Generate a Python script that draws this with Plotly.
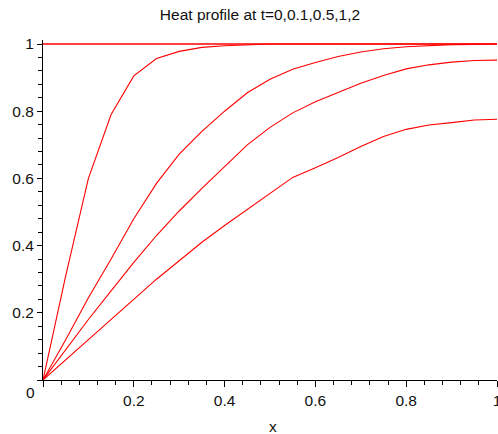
import plotly.graph_objects as go

# ---- data ----
x_grid = [0, 0.05, 0.1, 0.15, 0.2, 0.25, 0.3, 0.35, 0.4, 0.45, 0.5,
          0.55, 0.6, 0.65, 0.7, 0.75, 0.8, 0.85, 0.9, 0.95, 1.0]
u_t0 = [1.0] * 21
u_t01 = [0, 0.31, 0.60, 0.79, 0.905, 0.957, 0.978, 0.99, 0.995, 0.998, 1.0,
         1.0, 1.0, 1.0, 1.0, 1.0, 1.0, 1.0, 1.0, 1.0, 1.0]
u_t05 = [0, 0.12, 0.245, 0.36, 0.48, 0.585, 0.672, 0.74, 0.80, 0.855, 0.895,
         0.925, 0.945, 0.963, 0.976, 0.986, 0.992, 0.996, 0.998, 0.999, 1.0]
u_t1 = [0, 0.09, 0.18, 0.265, 0.35, 0.43, 0.503, 0.57, 0.635, 0.70, 0.752,
        0.795, 0.828, 0.855, 0.883, 0.906, 0.926, 0.938, 0.946, 0.951, 0.952]
u_t2 = [0, 0.06, 0.12, 0.18, 0.24, 0.30, 0.355, 0.41, 0.46, 0.507, 0.555,
        0.603, 0.632, 0.662, 0.695, 0.725, 0.746, 0.759, 0.766, 0.774, 0.776]

series = [u_t0, u_t01, u_t05, u_t1, u_t2]
title_text = "Heat profile at t=0,0.1,0.5,1,2"
x_tick_vals = [0, 0.2, 0.4, 0.6, 0.8, 1]
x_tick_text = ["", "0.2", "0.4", "0.6", "0.8", "1"]
y_tick_vals = [0, 0.2, 0.4, 0.6, 0.8, 1]
y_tick_text = ["", "0.2", "0.4", "0.6", "0.8", "1"]

FONT = "Liberation Sans, Arial, sans-serif"
RED = "#ff0000"

fig = go.Figure()
for i, ys in enumerate(series):
    fig.add_trace(go.Scatter(
        x=x_grid, y=ys, mode="lines",
        line=dict(color=RED, width=1.4 if i == 0 else 1.1),
        showlegend=False, hoverinfo="skip"))

W, H = 498, 434
L, R, T, B = 43, 1, 40, 54
plot_h = H - T - B  # 340 px
y_top = plot_h / 336.0

axis_common = dict(
    showgrid=False, zeroline=False, showline=True, linecolor="black",
    linewidth=1, ticks="outside", tickcolor="black", tickwidth=1,
    tickfont=dict(family=FONT, size=15.5, color="#111"),
    automargin=False, fixedrange=True, ticklabeloverflow="allow",
)

fig.update_layout(
    width=W, height=H,
    margin=dict(l=L, r=R, t=T, b=B, pad=0),
    paper_bgcolor="white", plot_bgcolor="white",
    title=dict(text=title_text, x=(260 - L) / (W - L - R), xref="paper",
               xanchor="center", y=1 - 15 / H, yanchor="middle",
               font=dict(family=FONT, size=15.5, color="#111")),
    xaxis=dict(range=[0, 1], tickmode="array", tickvals=x_tick_vals,
               ticktext=x_tick_text, ticklen=6,
               minor=dict(tickmode="linear", tick0=0, dtick=0.04, ticklen=4,
                          ticks="outside", tickcolor="black", tickwidth=1),
               **axis_common),
    yaxis=dict(range=[0, y_top], tickmode="array", tickvals=y_tick_vals,
               ticktext=y_tick_text, ticklen=5,
               minor=dict(tickmode="linear", tick0=0, dtick=0.04, ticklen=4,
                          ticks="outside", tickcolor="black", tickwidth=1),
               **axis_common),
    annotations=[
        dict(text="x", xref="paper", yref="paper",
             x=(273 - L) / (W - L - R), y=(380 - 426) / plot_h,
             xanchor="center", yanchor="middle", showarrow=False,
             font=dict(family=FONT, size=15.5, color="#111")),
        dict(text="0", xref="paper", yref="paper",
             x=(30 - L) / (W - L - R), y=(380 - 392) / plot_h,
             xanchor="center", yanchor="middle", showarrow=False,
             font=dict(family=FONT, size=15.5, color="#111")),
    ],
)

fig.write_html(
    "out.html",
    config={"displayModeBar": False},
    post_script="document.body.style.margin='0';document.body.style.overflow='hidden';",
)
